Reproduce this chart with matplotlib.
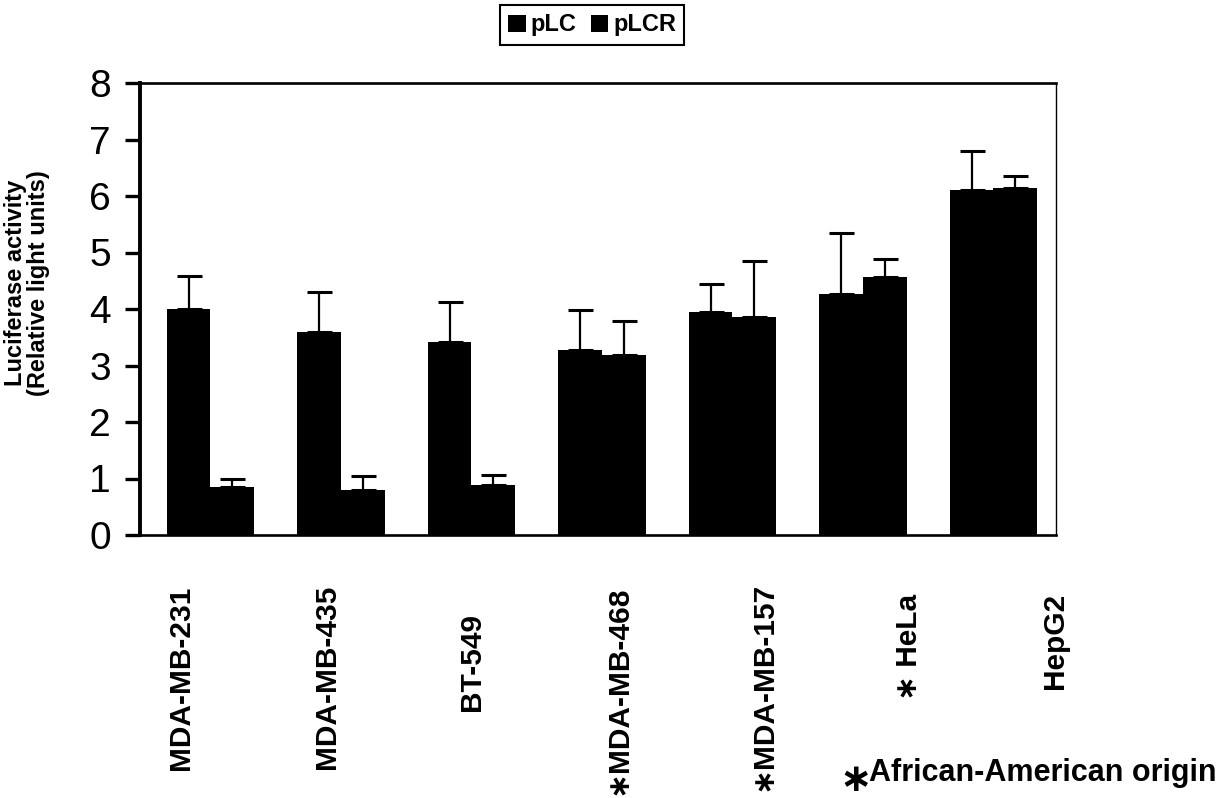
import numpy as np
import matplotlib
matplotlib.use('Agg')
import matplotlib.pyplot as plt

plt.rcParams['font.family'] = ['Liberation Sans', 'DejaVu Sans']

# Data
cell_lines = ['MDA-MB-231', 'MDA-MB-435', 'BT-549', '\u2217MDA-MB-468',
              '\u2217MDA-MB-157', '\u2217 HeLa', 'HepG2']
plc = [4.0, 3.6, 3.42, 3.28, 3.95, 4.27, 6.1]
plc_err = [0.58, 0.7, 0.7, 0.7, 0.5, 1.08, 0.69]
plcr = [0.85, 0.8, 0.88, 3.18, 3.85, 4.57, 6.15]
plcr_err = [0.14, 0.24, 0.18, 0.6, 1.0, 0.31, 0.2]

W, H = 1224, 798
fig = plt.figure(figsize=(W / 100, H / 100), dpi=100)
ax = fig.add_axes([140 / W, 1 - 535 / H, (1056 - 140) / W, (535 - 83) / H])

x = np.arange(len(cell_lines))
bw = 0.335
err_kw = dict(ecolor='black', elinewidth=1.6, capsize=9, capthick=2.2)
b1 = ax.bar(x - bw / 2, plc, bw, color='black', label='pLC',
            yerr=[np.zeros(len(plc)), plc_err], error_kw=err_kw)
b2 = ax.bar(x + bw / 2, plcr, bw, color='black', label='pLCR',
            yerr=[np.zeros(len(plcr)), plcr_err], error_kw=err_kw)

ax.set_xlim(-0.54, 6.48)
ax.set_ylim(0, 8)
ax.set_yticks(range(0, 9))
ax.tick_params(axis='y', direction='out', length=11, width=2.4, labelsize=28, pad=10)
ax.tick_params(axis='x', length=0, labelbottom=False)

ax.spines['left'].set_linewidth(2.8)
ax.spines['bottom'].set_linewidth(1.9)
ax.spines['top'].set_linewidth(1.9)
ax.spines['right'].set_linewidth(1.0)

# y label
fig.text(27 / W, 1 - 283 / H, 'Luciferase activity\n(Relative light units)',
         rotation=90, ha='center', va='center', fontsize=17, fontweight='bold',
         linespacing=1.05)

# category labels (rotated, hand placed like the original)
label_x = np.linspace(181, 1055, len(cell_lines))
label_y = [678, 677, 662, 690, 686, 647, 641]
for name, lx, ly in zip(cell_lines, label_x, label_y):
    fig.text(lx / W, 1 - ly / H, name, rotation=90, ha='center', va='center',
             fontsize=21.5, fontweight='bold')

# footnote
fig.text(856 / W, 1 - 781 / H, '\u2217', ha='center', va='center',
         fontsize=28, fontweight='bold')
fig.text(869 / W, 1 - 773 / H, 'African-American origin', ha='left', va='center',
         fontsize=22, fontweight='bold')

leg = ax.legend(handles=[b1, b2], loc='center', ncol=2,
                bbox_to_anchor=(592 / W, 1 - 25 / H), bbox_transform=fig.transFigure,
                prop={'size': 17, 'weight': 'bold'}, frameon=True, fancybox=False,
                edgecolor='black', framealpha=1, handlelength=0.75, handleheight=0.75,
                handletextpad=0.2, columnspacing=0.6, borderpad=0.35)
leg.get_frame().set_linewidth(1.5)

fig.savefig('out.png', dpi=100)
